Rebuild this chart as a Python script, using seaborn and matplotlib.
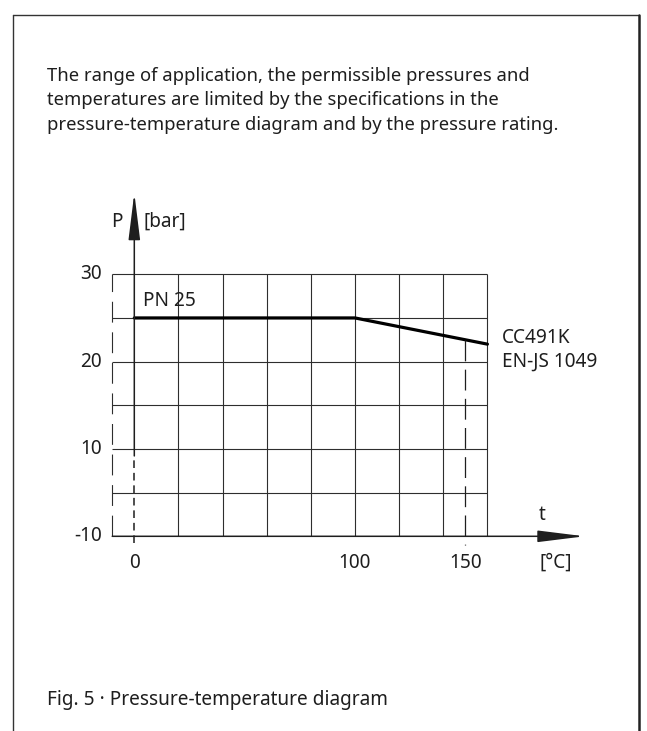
import numpy as np
import pandas as pd
import seaborn as sns
import matplotlib.pyplot as plt

# data
temp_c = [0, 100, 150, 160]
pressure_bar = [25, 25, 22.5, 22]
x_grid = [20, 40, 60, 80, 100, 120, 140, 160]
y_grid = [0, 5, 10, 15, 20, 25, 30]
x_tick_pos = [0, 100, 150]
x_tick_labels = ["0", "100", "150"]
y_tick_pos = [30, 20, 10, 0]
y_tick_labels = ["30", "20", "10", "-10"]

intro = ("The range of application, the permissible pressures and\n"
         "temperatures are limited by the specifications in the\n"
         "pressure-temperature diagram and by the pressure rating.")
caption = "Fig. 5 \u00b7 Pressure-temperature diagram"

sns.set_style("white")
plt.rcParams['font.family'] = ['Noto Sans', 'DejaVu Sans']
plt.rcParams['lines.scale_dashes'] = False
ink = "#1e1e1e"
fs = 13.7

W, H = 647, 731
fig = plt.figure(figsize=(W / 100, H / 100), dpi=100)

# axes placed so that the grid sits where it is in the figure
ax = fig.add_axes([90.16 / W, 1 - 579.97 / H, (599.98 - 90.16) / W, (579.97 - 178.2) / H])
ax.set_xlim(-20, 211)
ax.set_ylim(-5, 41)
ax.axis("off")

# grid
ax.hlines(y_grid[1:], -10, 160, color="#2e2e2e", lw=0.8)
ax.vlines(x_grid, 0, 30, color="#2e2e2e", lw=0.8)
ax.plot([-10, -10], [0, 30], color="#2e2e2e", lw=0.8, dashes=(15, 7))

# axes with arrows
ax.plot([0, 0], [-0.8, 9.2], color=ink, lw=1.1, dashes=(5.5, 3.5))
ax.annotate("", xy=(0, 39.3), xytext=(0, 9.2),
            arrowprops=dict(arrowstyle="-|>,head_length=2.9,head_width=0.36",
                            mutation_scale=10, color=ink, lw=1.1,
                            shrinkA=0, shrinkB=0))
ax.annotate("", xy=(204, 0), xytext=(-10, 0),
            arrowprops=dict(arrowstyle="-|>,head_length=2.9,head_width=0.36",
                            mutation_scale=10, color=ink, lw=1.1,
                            shrinkA=0, shrinkB=0))

# pressure limit curve
df = pd.DataFrame({"t": temp_c, "p": pressure_bar})
sns.lineplot(data=df, x="t", y="p", ax=ax, color="black", lw=2.3)
ax.plot([150, 150], [22.5, -1.0], color=ink, lw=0.9, dashes=(15, 6))

# labels
for x, lab in zip(x_tick_pos, x_tick_labels):
    ax.text(x, -3.0, lab, ha="center", va="center", fontsize=fs, color=ink)
ax.text(191, -3.0, "[\u00b0C]", ha="center", va="center", fontsize=fs, color=ink)
for y, lab in zip(y_tick_pos, y_tick_labels):
    ax.text(-14.6, y, lab, ha="right", va="center", fontsize=fs, color=ink)

ax.text(-5.5, 36.0, "P", ha="right", va="center", fontsize=fs, color=ink)
ax.text(4.0, 36.0, "[bar]", ha="left", va="center", fontsize=fs, color=ink)
ax.text(184.6, 2.4, "t", ha="center", va="center", fontsize=fs, color=ink)
ax.text(3.9, 26.9, "PN 25", ha="left", va="center", fontsize=fs, color=ink)
ax.text(166.5, 22.7, "CC491K", ha="left", va="center", fontsize=fs, color=ink)
ax.text(166.5, 20.0, "EN-JS 1049", ha="left", va="center", fontsize=fs, color=ink)

# page text
fig.text(47 / W, 1 - 67 / H, intro, ha="left", va="top", fontsize=13.25,
         color=ink, linespacing=1.45)
fig.text(47 / W, 1 - 700 / H, caption, ha="left", va="center", fontsize=fs, color=ink)

# page frame
fig.add_artist(plt.Line2D([13 / W, 13 / W], [0, 1 - 15 / H], color="#333333", lw=1.0))
fig.add_artist(plt.Line2D([13 / W, 639 / W], [1 - 15 / H, 1 - 15 / H], color="#333333", lw=1.0))
fig.add_artist(plt.Line2D([639 / W, 639 / W], [0, 1 - 15 / H], color="#222222", lw=1.8))

plt.savefig("out.png", dpi=100)
plt.close()
